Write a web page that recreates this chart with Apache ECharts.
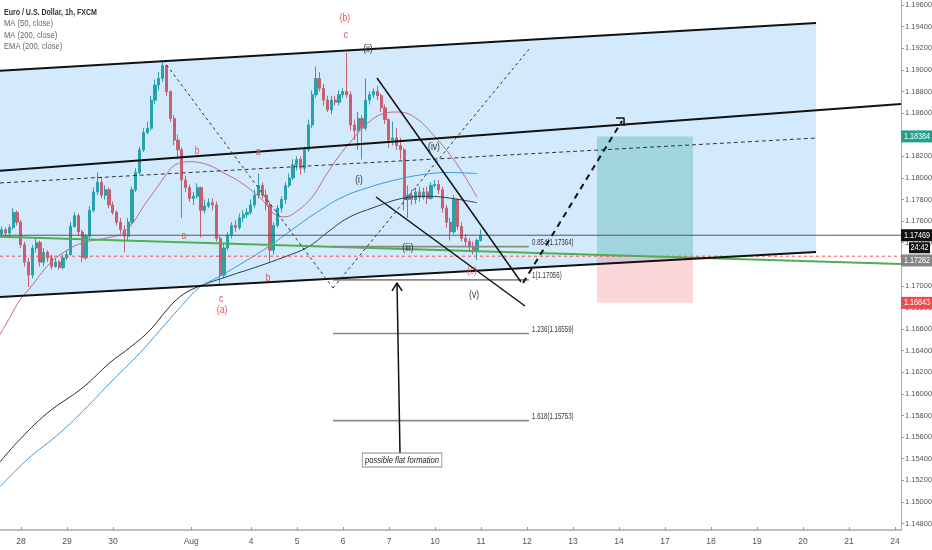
<!DOCTYPE html>
<html>
<head>
<meta charset="utf-8">
<script src="https://cdn.jsdelivr.net/npm/echarts@6.0.0/dist/echarts.min.js"></script>
<style>
  html, body { margin: 0; padding: 0; background: #fff; }
  #chart { width: 932px; height: 550px; }
</style>
</head>
<body>
<div id="chart"></div>
<script>
// x axis is measured in trading days, 0 = Jul 28
var xTickDays = [0, 1, 2, 3.7, 5, 6, 7, 8, 9, 10, 11, 12, 13, 14, 15, 16, 17, 18, 19];
var xTickLabels = ['28', '29', '30', 'Aug', '4', '5', '6', '7', '10', '11', '12', '13', '14', '17', '18', '19', '20', '21', '24'];
var yTicks = [1.148, 1.150, 1.152, 1.154, 1.156, 1.158, 1.160, 1.162, 1.164, 1.166, 1.168, 1.170,
  1.172, 1.174, 1.176, 1.178, 1.180, 1.182, 1.184, 1.186, 1.188, 1.190, 1.192, 1.194, 1.196];

// candles: [open, close, low, high], 2 hours apart
var barStart = -0.42;
var barStep = 1 / 12;
var bars = [
  [1.1748, 1.1752, 1.1745, 1.1755], [1.1752, 1.1749, 1.1746, 1.1754], [1.1749, 1.1754, 1.1747, 1.1757],
  [1.1754, 1.1768, 1.1752, 1.1772], [1.1768, 1.1759, 1.1756, 1.1770], [1.1759, 1.1738, 1.1735, 1.1761],
  [1.1738, 1.1722, 1.1718, 1.1741], [1.1722, 1.1710, 1.1699, 1.1726], [1.1710, 1.1735, 1.1707, 1.1738],
  [1.1735, 1.1740, 1.1731, 1.1744], [1.1740, 1.1722, 1.1718, 1.1742], [1.1722, 1.1731, 1.1718, 1.1735],
  [1.1731, 1.1726, 1.1722, 1.1733], [1.1726, 1.1718, 1.1715, 1.1729], [1.1718, 1.1722, 1.1717, 1.1726],
  [1.1722, 1.1717, 1.1715, 1.1724], [1.1717, 1.1726, 1.1715, 1.1729], [1.1726, 1.1729, 1.1724, 1.1733],
  [1.1729, 1.1755, 1.1728, 1.1759], [1.1755, 1.1765, 1.1754, 1.1768], [1.1765, 1.1750, 1.1746, 1.1767],
  [1.1750, 1.1726, 1.1722, 1.1752], [1.1726, 1.1746, 1.1724, 1.1748], [1.1746, 1.1770, 1.1744, 1.1774],
  [1.1770, 1.1787, 1.1768, 1.1791], [1.1787, 1.1796, 1.1784, 1.1805], [1.1796, 1.1784, 1.1781, 1.1800],
  [1.1784, 1.1789, 1.1780, 1.1793], [1.1789, 1.1775, 1.1772, 1.1791], [1.1775, 1.1768, 1.1766, 1.1778],
  [1.1768, 1.1759, 1.1756, 1.1770], [1.1759, 1.1752, 1.1749, 1.1763], [1.1752, 1.1746, 1.1731, 1.1756],
  [1.1746, 1.1759, 1.1742, 1.1763], [1.1759, 1.1789, 1.1756, 1.1792], [1.1789, 1.1805, 1.1787, 1.1809],
  [1.1805, 1.1826, 1.1803, 1.1829], [1.1826, 1.1842, 1.1824, 1.1846], [1.1842, 1.1846, 1.1840, 1.1852],
  [1.1846, 1.1872, 1.1844, 1.1876], [1.1872, 1.1886, 1.1868, 1.1891], [1.1886, 1.1892, 1.1881, 1.1898],
  [1.1892, 1.1904, 1.1889, 1.1907], [1.1904, 1.1880, 1.1876, 1.1905], [1.1880, 1.1855, 1.1852, 1.1881],
  [1.1855, 1.1835, 1.1830, 1.1858], [1.1835, 1.1826, 1.1817, 1.1840], [1.1826, 1.1798, 1.1763, 1.1828],
  [1.1798, 1.1791, 1.1787, 1.1802], [1.1791, 1.1781, 1.1778, 1.1794], [1.1781, 1.1783, 1.1775, 1.1787],
  [1.1783, 1.1791, 1.1781, 1.1795], [1.1791, 1.1770, 1.1745, 1.1792], [1.1770, 1.1774, 1.1767, 1.1780],
  [1.1774, 1.1777, 1.1772, 1.1781], [1.1777, 1.1775, 1.1770, 1.1781], [1.1775, 1.1744, 1.1741, 1.1778],
  [1.1744, 1.1710, 1.1701, 1.1747], [1.1710, 1.1735, 1.1707, 1.1739], [1.1735, 1.1747, 1.1733, 1.1750],
  [1.1747, 1.1756, 1.1744, 1.1759], [1.1756, 1.1754, 1.1750, 1.1761], [1.1754, 1.1763, 1.1752, 1.1767],
  [1.1763, 1.1766, 1.1759, 1.1770], [1.1766, 1.1768, 1.1763, 1.1772], [1.1768, 1.1775, 1.1766, 1.1780],
  [1.1775, 1.1784, 1.1772, 1.1789], [1.1784, 1.1793, 1.1781, 1.1804], [1.1793, 1.1784, 1.1781, 1.1796],
  [1.1784, 1.1775, 1.1770, 1.1789], [1.1775, 1.1733, 1.1722, 1.1778], [1.1733, 1.1756, 1.1729, 1.1759],
  [1.1756, 1.1772, 1.1754, 1.1775], [1.1772, 1.1780, 1.1768, 1.1783], [1.1780, 1.1793, 1.1776, 1.1796],
  [1.1793, 1.1800, 1.1791, 1.1804], [1.1800, 1.1812, 1.1798, 1.1817], [1.1812, 1.1817, 1.1807, 1.1820],
  [1.1817, 1.1809, 1.1803, 1.1820], [1.1809, 1.1826, 1.1805, 1.1829], [1.1826, 1.1849, 1.1824, 1.1854],
  [1.1849, 1.1877, 1.1846, 1.1881], [1.1877, 1.1892, 1.1874, 1.1903], [1.1892, 1.1883, 1.1880, 1.1898],
  [1.1883, 1.1872, 1.1867, 1.1887], [1.1872, 1.1863, 1.1861, 1.1876], [1.1863, 1.1872, 1.1859, 1.1876],
  [1.1872, 1.1870, 1.1867, 1.1876], [1.1870, 1.1877, 1.1867, 1.1881], [1.1877, 1.1880, 1.1874, 1.1883],
  [1.1880, 1.1877, 1.1874, 1.1916], [1.1877, 1.1849, 1.1844, 1.1880], [1.1849, 1.1844, 1.1835, 1.1854],
  [1.1844, 1.1855, 1.1826, 1.1861], [1.1855, 1.1846, 1.1817, 1.1858], [1.1846, 1.1872, 1.1844, 1.1892],
  [1.1872, 1.1877, 1.1868, 1.1880], [1.1877, 1.1880, 1.1874, 1.1883], [1.1880, 1.1876, 1.1872, 1.1885],
  [1.1876, 1.1865, 1.1861, 1.1878], [1.1865, 1.1854, 1.1850, 1.1868], [1.1854, 1.1835, 1.1828, 1.1855],
  [1.1835, 1.1837, 1.1830, 1.1852], [1.1837, 1.1830, 1.1826, 1.1846], [1.1830, 1.1826, 1.1817, 1.1837],
  [1.1826, 1.1780, 1.1770, 1.1828], [1.1780, 1.1784, 1.1763, 1.1793], [1.1784, 1.1780, 1.1775, 1.1789],
  [1.1780, 1.1787, 1.1776, 1.1791], [1.1787, 1.1782, 1.1778, 1.1792], [1.1782, 1.1787, 1.1780, 1.1791],
  [1.1787, 1.1781, 1.1776, 1.1792], [1.1781, 1.1793, 1.1780, 1.1796], [1.1793, 1.1794, 1.1791, 1.1798],
  [1.1794, 1.1789, 1.1785, 1.1798], [1.1789, 1.1772, 1.1768, 1.1792], [1.1772, 1.1759, 1.1754, 1.1775],
  [1.1759, 1.1750, 1.1742, 1.1763], [1.1750, 1.1780, 1.1748, 1.1784], [1.1780, 1.1755, 1.1752, 1.1781],
  [1.1755, 1.1744, 1.1741, 1.1759], [1.1744, 1.1741, 1.1737, 1.1748], [1.1741, 1.1736, 1.1733, 1.1744],
  [1.1736, 1.1733, 1.1729, 1.1741], [1.1733, 1.1742, 1.1724, 1.1744], [1.1742, 1.17469, 1.1741, 1.1752]
];

// moving averages: [day, price]
var ma50 = [[-0.457, 1.1655], [-0.239, 1.1671], [-0.022, 1.1687], [0.196, 1.1698], [0.630, 1.1721],
  [1.000, 1.1733], [1.348, 1.1740], [1.935, 1.1745], [2.217, 1.1749], [2.478, 1.1761], [2.652, 1.1773],
  [2.957, 1.1791], [3.174, 1.1804], [3.348, 1.1812], [3.674, 1.1815], [4.065, 1.1812], [4.435, 1.1804],
  [4.804, 1.1795], [5.239, 1.1780], [5.522, 1.1766], [5.739, 1.1764], [6.022, 1.1770], [6.326, 1.1782],
  [6.609, 1.1801], [6.891, 1.1819], [7.196, 1.1835], [7.543, 1.1851], [7.913, 1.1860], [8.196, 1.1861],
  [8.565, 1.1856], [9.000, 1.1838], [9.370, 1.1819], [9.652, 1.1801], [9.913, 1.1782]];
var ma200 = [[-0.457, 1.1537], [-0.087, 1.1555], [0.565, 1.1582], [1.348, 1.1606], [1.935, 1.1629],
  [2.370, 1.1643], [2.804, 1.1659], [3.174, 1.1678], [3.457, 1.1690], [3.783, 1.1698], [4.435, 1.1708],
  [5.152, 1.1718], [5.739, 1.1727], [6.239, 1.1736], [6.674, 1.1750], [7.109, 1.1763], [7.696, 1.1773],
  [8.283, 1.1781], [8.848, 1.1783], [9.370, 1.1781], [9.913, 1.1777]];
var ema200 = [[-0.457, 1.1514], [0.130, 1.1539], [0.848, 1.1564], [1.435, 1.1588], [2.000, 1.1613],
  [2.587, 1.1638], [3.022, 1.1659], [3.457, 1.1680], [3.891, 1.1699], [4.283, 1.1708], [4.804, 1.1721],
  [5.370, 1.1736], [5.891, 1.1752], [6.391, 1.1767], [6.978, 1.1782], [7.543, 1.1791], [8.130, 1.1798],
  [8.717, 1.1803], [9.283, 1.1805], [9.913, 1.1804]];

// drawings
var channelTop = [[-0.4565, 1.18992], [17.283, 1.19434]];
var channelBottom = [[-0.4565, 1.16897], [17.283, 1.17314]];
var channelMid = [[-0.4565, 1.17953], [17.283, 1.18369]];
var upperLine = [[-0.4565, 1.18066], [19.13, 1.18684]];
var greenLine = [[-0.4565, 1.17455], [19.13, 1.17203]];
var lastPrice = 1.17469;
var redDashPrice = 1.17275;
var fibFrom = 6.783, fibTo = 11.04;
var fibRatios = ['0.854', '1', '1.236', '1.618'];
var fibPrices = [1.17364, 1.17056, 1.16559, 1.15753];
var vLeft = [[3.087, 1.19091], [6.783, 1.16980]];
var vRight = [[6.783, 1.16980], [11.065, 1.19203]];
var wedgeUpper = [[7.739, 1.18925], [10.87, 1.17036]];
var wedgeLower = [[7.717, 1.17823], [10.957, 1.16814]];
var projection = [[10.913, 1.17027], [13.065, 1.18527]];
var projectionTip = [[12.935, 1.18554], [13.109, 1.18554], [13.109, 1.18480]];
var arrowShaft = [[8.239, 1.15453], [8.174, 1.17027]];
var arrowHead = [[8.065, 1.16953], [8.174, 1.17027], [8.283, 1.16953]];
var noteAt = [8.283, 1.15388];
var positionFrom = 12.52, positionTo = 14.61;
var targetPrice = 1.18384, entryPrice = 1.17282, stopPrice = 1.16843;

var RED = '#e0544f', DARK = '#333333';
var waveLabels = [
  { d: 7.043, p: 1.1948, t: '(b)', c: RED }, { d: 7.065, p: 1.1932, t: 'c', c: RED },
  { d: 7.543, p: 1.1919, t: '(ii)', c: DARK }, { d: 8.978, p: 1.1828, t: '(iv)', c: DARK },
  { d: 7.348, p: 1.1798, t: '(i)', c: DARK }, { d: 8.413, p: 1.1735, t: '(iii)', c: DARK },
  { d: 9.804, p: 1.1714, t: '(c)', c: RED }, { d: 9.848, p: 1.1691, t: '(v)', c: DARK },
  { d: 3.826, p: 1.1825, t: 'b', c: RED }, { d: 5.152, p: 1.1824, t: 'a', c: RED },
  { d: 3.543, p: 1.1746, t: 'a', c: RED }, { d: 5.370, p: 1.1707, t: 'b', c: RED },
  { d: 4.348, p: 1.1688, t: 'c', c: RED }, { d: 4.370, p: 1.1677, t: '(a)', c: RED }
];

var FONT = '"Liberation Sans Narrow", "Liberation Sans", Arial, sans-serif';

function lineSeries(points, color, width, type, z) {
  return {
    type: 'line', data: points, symbol: 'none', silent: true, animation: false, z: z || 5,
    lineStyle: { color: color, width: width, type: type || 'solid', cap: 'butt' }
  };
}
function polygonSeries(points, fill, z) {
  return {
    type: 'custom', data: [0], silent: true, animation: false, z: z || 4,
    renderItem: function (params, api) {
      return { type: 'polygon', shape: { points: points.map(function (p) { return api.coord(p); }) }, style: { fill: fill } };
    }
  };
}
// squeeze: horizontal scale so the wide fallback font matches the narrow original
function textSeries(items, z) {
  return {
    type: 'custom', data: items.map(function (a, i) { return i; }), silent: true, animation: false, z: z || 6,
    renderItem: function (params, api) {
      var a = items[params.dataIndex];
      var pt = api.coord([a.d, a.p]);
      return {
        type: 'text', x: pt[0] + (a.dx || 0), y: pt[1] + (a.dy || 0), scaleX: a.squeeze || 1,
        style: Object.assign({ text: a.t, fill: a.c, font: (a.size || 10) + 'px ' + FONT, align: a.align || 'center', verticalAlign: 'middle' }, a.box || {})
      };
    }
  };
}

var chart = echarts.init(document.getElementById('chart'));

var series = [];
series.push({
  type: 'candlestick', z: 2, animation: false, barWidth: 2.6,
  encode: { x: 0, y: [1, 2, 3, 4] },
  data: bars.map(function (b, i) { return [barStart + i * barStep, b[0], b[1], b[2], b[3]]; }),
  itemStyle: { color: '#26a69a', color0: '#ef5350', borderColor: '#26a69a', borderColor0: '#ef5350', borderWidth: 1 }
});
series.push(Object.assign(lineSeries(ma50, '#e06666', 1, 'solid', 3), { smooth: 0.4 }));
series.push(Object.assign(lineSeries(ma200, '#2b2b2b', 1, 'solid', 3), { smooth: 0.4 }));
series.push(Object.assign(lineSeries(ema200, '#3d9be0', 1, 'solid', 3), { smooth: 0.4 }));

// channel fill and position boxes
series.push(polygonSeries([channelTop[0], channelTop[1], channelBottom[1], channelBottom[0]], 'rgba(33,150,243,0.2)', 4));
series.push(polygonSeries([[positionFrom, targetPrice], [positionTo, targetPrice], [positionTo, entryPrice], [positionFrom, entryPrice]], 'rgba(8,153,129,0.25)', 4));
series.push(polygonSeries([[positionFrom, entryPrice], [positionTo, entryPrice], [positionTo, stopPrice], [positionFrom, stopPrice]], 'rgba(242,54,69,0.2)', 4));

// horizontal lines
series.push(lineSeries([[-0.4565, lastPrice], [19.13, lastPrice]], '#555555', 1, 'solid', 5));
series.push(lineSeries([[-0.4565, redDashPrice], [19.13, redDashPrice]], '#ef5350', 1, [3, 3], 5));
series.push(lineSeries(greenLine, '#4caf50', 2, 'solid', 5));
fibPrices.forEach(function (p) {
  series.push(lineSeries([[fibFrom, p], [fibTo, p]], '#8a8a8a', 1.6, 'solid', 5));
});

// channel and wave drawings
series.push(lineSeries(channelTop, '#111111', 2, 'solid', 6));
series.push(lineSeries(channelBottom, '#111111', 2, 'solid', 6));
series.push(lineSeries(channelMid, '#333333', 1, [4, 3], 6));
series.push(lineSeries(upperLine, '#111111', 2, 'solid', 6));
series.push(lineSeries(vLeft, '#333333', 1, [3, 3], 6));
series.push(lineSeries(vRight, '#333333', 1, [3, 3], 6));
series.push(lineSeries(wedgeUpper, '#111111', 1.5, 'solid', 6));
series.push(lineSeries(wedgeLower, '#111111', 1.5, 'solid', 6));
series.push(lineSeries(projection, '#111111', 2, [6, 5], 6));
series.push(lineSeries(projectionTip, '#111111', 1.5, 'solid', 6));
series.push(lineSeries(arrowShaft, '#111111', 1.5, 'solid', 6));
series.push(lineSeries(arrowHead, '#111111', 1.5, 'solid', 6));

// texts
series.push(textSeries(waveLabels.map(function (a) { return Object.assign({ squeeze: 0.85 }, a); }), 7));
series.push(textSeries(fibRatios.map(function (r, i) {
  return { d: fibTo + 0.07, p: fibPrices[i], t: r + '(' + fibPrices[i].toFixed(5) + ')', c: '#333', size: 8.5, align: 'left', dy: -4, squeeze: 0.72 };
}), 7));
series.push(textSeries([{
  d: noteAt[0], p: noteAt[1], t: 'possible flat formation', c: '#222', size: 9.5, squeeze: 0.8,
  box: { font: 'italic 9.5px ' + FONT, backgroundColor: '#fff', borderColor: '#888', borderWidth: 1, padding: [2, 3, 1, 3] }
}], 8));

chart.setOption({
  animation: false,
  backgroundColor: '#ffffff',
  grid: { left: 0, right: 31, top: 0, bottom: 20, containLabel: false, outerBoundsMode: 'none' },
  xAxis: {
    type: 'value', min: -0.4565, max: 19.13,
    axisLine: { show: true, onZero: false, lineStyle: { color: '#a8a8a8', width: 1.5 } },
    axisTick: { show: true, inside: true, length: 3, customValues: xTickDays, lineStyle: { color: '#999' } },
    axisLabel: {
      customValues: xTickDays, fontSize: 8.5, color: '#555', fontFamily: FONT, margin: 7,
      formatter: function (v) {
        var k = xTickDays.indexOf(v);
        return k >= 0 ? xTickLabels[k] : '';
      }
    },
    splitLine: { show: false }
  },
  yAxis: {
    type: 'value', position: 'right', min: 1.1474, max: 1.19647, scale: true,
    axisLine: { show: true, onZero: false, lineStyle: { color: '#a8a8a8', width: 1 } },
    axisTick: { show: true, length: 3, customValues: yTicks, lineStyle: { color: '#999' } },
    axisLabel: {
      customValues: yTicks, fontSize: 7.5, color: '#555', fontFamily: FONT, margin: 4,
      formatter: function (v) { return v.toFixed(5); }
    },
    splitLine: { show: false }
  },
  series: series
});

// price tags on the right axis and the legend block
var tags = [
  { p: targetPrice, bg: '#22a08c', t: targetPrice.toFixed(5), dy: 0 },
  { p: lastPrice, bg: '#111111', t: lastPrice.toFixed(5), dy: 0 },
  { p: entryPrice, bg: '#858585', t: entryPrice.toFixed(5), dy: 5 },
  { p: stopPrice, bg: '#ef4a4a', t: stopPrice.toFixed(5), dy: 0 }
];
var graphics = [];
tags.forEach(function (g) {
  var y = chart.convertToPixel({ yAxisIndex: 0 }, g.p) + g.dy;
  graphics.push({ type: 'rect', shape: { x: 901, y: y - 6, width: 31, height: 12 }, style: { fill: g.bg }, z: 20 });
  graphics.push({ type: 'text', x: 917, y: y, scaleX: 0.85, style: { text: g.t, fill: '#fff', font: '8.5px ' + FONT, align: 'center', verticalAlign: 'middle' }, z: 21 });
});
var lastY = chart.convertToPixel({ yAxisIndex: 0 }, lastPrice);
graphics.push({ type: 'rect', shape: { x: 909, y: lastY + 7, width: 21, height: 11 }, style: { fill: '#111' }, z: 20 });
graphics.push({ type: 'text', x: 919.5, y: lastY + 12.5, scaleX: 0.85, style: { text: '24:42', fill: '#fff', font: '8.5px ' + FONT, align: 'center', verticalAlign: 'middle' }, z: 21 });

var legendLines = ['Euro / U.S. Dollar, 1h, FXCM', 'MA (50, close)', 'MA (200, close)', 'EMA (200, close)'];
legendLines.forEach(function (t, i) {
  graphics.push({
    type: 'text', x: 4, y: 12 + i * 11.5, scaleX: i === 0 ? 0.74 : 0.8,
    style: { text: t, fill: i === 0 ? '#333' : '#666', font: (i === 0 ? 'bold ' : '') + '9.5px ' + FONT, verticalAlign: 'middle' },
    z: 20
  });
});
chart.setOption({ graphic: graphics });
</script>
</body>
</html>
